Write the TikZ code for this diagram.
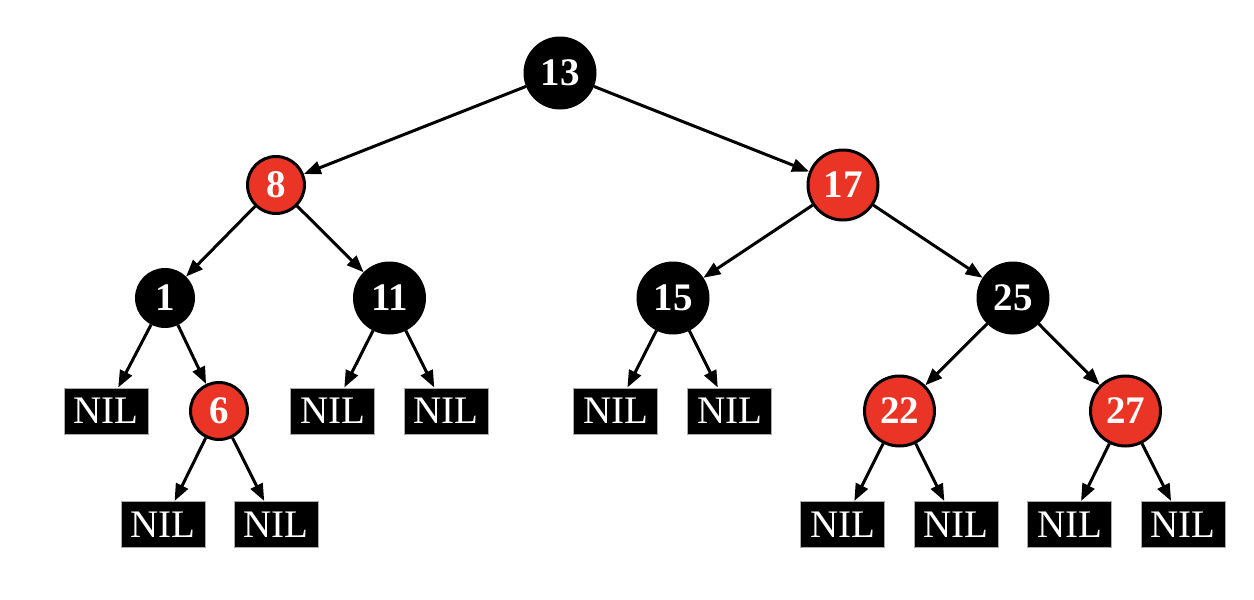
\documentclass[tikz,border=0pt]{standalone}
\usepackage{fontspec}
\setmainfont{Liberation Serif}
\usetikzlibrary{arrows.meta}
\definecolor{rbred}{RGB}{233,52,38}
\definecolor{nilborder}{RGB}{170,170,170}
\begin{document}
\begin{tikzpicture}[x=1pt,y=-1pt,
  rbnode/.style={circle,draw=black,line width=3pt,text=white,inner sep=0pt,
    font=\fontsize{39}{39}\selectfont\bfseries},
  blk/.style={rbnode,fill=black},
  rd/.style={rbnode,fill=rbred},
  sm/.style={minimum size=57pt},
  lg/.style={minimum size=70pt},
  nil/.style={rectangle,fill=black,draw=nilborder,line width=1pt,
    minimum width=84pt,minimum height=46pt,inner sep=0pt,text=white,
    font=\fontsize{39}{39}\selectfont},
  edge/.style={-{Triangle[length=17pt,width=13pt]},line width=3pt}]
\useasboundingbox (0,0) rectangle (1254,600);
% circles
\node[blk,lg] (n13) at (560,73) {13};
\node[rd,sm]  (n8)  at (276,185) {8};
\node[rd,lg]  (n17) at (843,185) {17};
\node[blk,sm] (n1)  at (165,298) {1};
\node[blk,lg] (n11) at (389.5,298) {11};
\node[blk,lg] (n15) at (673,298) {15};
\node[blk,lg] (n25) at (1013,298) {25};
\node[rd,sm]  (n6)  at (219,411) {6};
\node[rd,lg]  (n22) at (899.5,411) {22};
\node[rd,lg]  (n27) at (1125.5,411) {27};
% NIL leaves
\node[nil] (l1a) at (106,411) {NIL};
\node[nil] (l6a) at (163,524.5) {NIL};
\node[nil] (l6b) at (276,524.5) {NIL};
\node[nil] (l11a) at (332.5,411) {NIL};
\node[nil] (l11b) at (446,411) {NIL};
\node[nil] (l15a) at (615.5,411) {NIL};
\node[nil] (l15b) at (729.5,411) {NIL};
\node[nil] (l22a) at (842.5,524.5) {NIL};
\node[nil] (l22b) at (956,524.5) {NIL};
\node[nil] (l27a) at (1069.5,524.5) {NIL};
\node[nil] (l27b) at (1183,524.5) {NIL};
% edges
\draw[edge] (n13) -- (n8);
\draw[edge] (n13) -- (n17);
\draw[edge] (n8) -- (n1);
\draw[edge] (n8) -- (n11);
\draw[edge] (n17) -- (n15);
\draw[edge] (n17) -- (n25);
\draw[edge] (n1) -- (l1a);
\draw[edge] (n1) -- (n6);
\draw[edge] (n6) -- (l6a);
\draw[edge] (n6) -- (l6b);
\draw[edge] (n11) -- (l11a);
\draw[edge] (n11) -- (l11b);
\draw[edge] (n15) -- (l15a);
\draw[edge] (n15) -- (l15b);
\draw[edge] (n25) -- (n22);
\draw[edge] (n25) -- (n27);
\draw[edge] (n22) -- (l22a);
\draw[edge] (n22) -- (l22b);
\draw[edge] (n27) -- (l27a);
\draw[edge] (n27) -- (l27b);
\end{tikzpicture}
\end{document}
